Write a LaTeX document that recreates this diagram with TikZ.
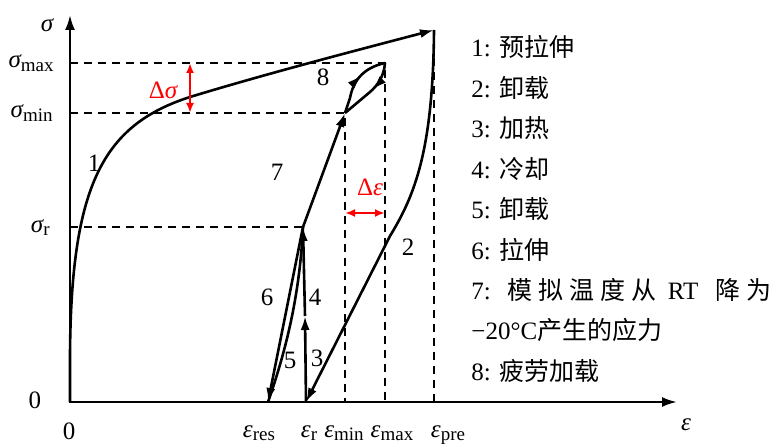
\documentclass[tikz,border=0pt]{standalone}
\usepackage{fontspec}
\setmainfont{Liberation Serif}
\newfontfamily\cjk{Noto Sans CJK SC}
\usetikzlibrary{arrows.meta,decorations.markings}
\newcommand\zh[1]{{\cjk #1}}
\newcommand\Sig{{\itshape σ}}
\newcommand\Eps{{\itshape ε}}
\newcommand\sbs[1]{\raisebox{-1.6pt}{\fontsize{9.5}{11}\selectfont #1}}
\begin{document}
\begin{tikzpicture}[x=0.5pt,y=-0.5pt,
  font=\fontsize{12.5}{15}\selectfont,
  axisline/.style={line width=1.2pt,{Latex[length=7.5pt,width=5pt]}-{Latex[length=7.5pt,width=5pt]}},
  curveline/.style={line width=1.3pt},
  tip/.style={-{Latex[length=7pt,width=4.5pt]}},
  guide/.style={line width=0.7pt,dash pattern=on 4pt off 3pt},
  redarrow/.style={red,line width=1pt,{Latex[length=5pt,width=4pt]}-{Latex[length=5pt,width=4pt]}},
  lab/.style={inner sep=0pt},
  legend/.style={inner sep=0pt,anchor=base west},
  midtip/.style={postaction=decorate,decoration={markings,mark=at position #1 with {\arrow{Latex[length=7pt,width=4.5pt]}}}}
]
\useasboundingbox (0,0) rectangle (771,444);

% key points
\coordinate (O) at (70,402);
\coordinate (Ytop) at (70,15);
\coordinate (Xend) at (677,402);
\coordinate (P) at (434,30);
\coordinate (Er) at (306,402);
\coordinate (Eres) at (268,402);
\coordinate (M) at (305,316);
\coordinate (R) at (303,227);
\coordinate (Lmin) at (345,113);
\coordinate (Lmax) at (385,63);
\coordinate (SmaxY) at (70,63);
\coordinate (SminY) at (70,113);
\coordinate (SrY) at (70,227);
\coordinate (EminX) at (345,402);
\coordinate (EmaxX) at (385,402);
\coordinate (EpreX) at (434,402);
\coordinate (DsT) at (190,63);
\coordinate (DsB) at (190,113);
\coordinate (DeL) at (345,213);
\coordinate (DeR) at (385,213);

% guide lines
\draw[guide] (SmaxY) -- (Lmax) -- (EmaxX);
\draw[guide] (SminY) -- (Lmin) -- (EminX);
\draw[guide] (SrY) -- (R);
\draw[guide] (P) -- (EpreX);

% axes
\draw[axisline] (Ytop) -- (O) -- (Xend);

% 1: pre-stretch
\draw[curveline,tip] (O) -- (70,355) .. controls (71,185) and (103,125) .. (190,97)
  .. controls (262,75) and (350,52) .. (P);
% 2: unloading
\draw[curveline,tip] (P) .. controls (433,150) and (415,195) .. (390,236) -- (Er);
% 3 and 4
\draw[curveline,tip] (Er) -- (M);
\draw[curveline,tip] (M) -- (R);
% 5 and 6
\draw[curveline] (R) .. controls (300,290) and (288,345) .. (Eres);
\draw[curveline,tip] (R) -- (Eres);
% 7
\draw[curveline,tip] (R) -- (Lmin);
% 8: fatigue loop
\draw[curveline,midtip=0.6] (Lmin) -- (350,98) .. controls (353,82) and (362,68) .. (Lmax);
\draw[curveline,midtip=0.45] (Lmax) .. controls (384,76) and (378,85) .. (370,92) -- (Lmin);

% red markers
\draw[redarrow] (DsT) -- (DsB);
\draw[redarrow] (DeL) -- (DeR);
\node[lab,red] (dsig) at (163,90) {Δ\Sig};
\node[lab,red] (deps) at (370,187) {Δ\Eps};

% axis labels
\node[lab,anchor=base] (sigax) at (47,32) {\Sig};
\node[lab,anchor=base] (epsax) at (686,430) {\Eps};
\node[lab,anchor=base east] (smax) at (54,68) {\Sig\sbs{max}};
\node[lab,anchor=base east] (smin) at (53,118) {\Sig\sbs{min}};
\node[lab,anchor=base east] (sr) at (50,232) {\Sig\sbs{r}};
\node[lab,anchor=base] (zeroy) at (35,408) {0};
\node[lab,anchor=base] (zerox) at (69,439) {0};
\node[lab,anchor=base] (eres) at (259,437) {\Eps\sbs{res}};
\node[lab,anchor=base] (er) at (309,437) {\Eps\sbs{r}};
\node[lab,anchor=base] (emin) at (344,437) {\Eps\sbs{min}};
\node[lab,anchor=base] (emax) at (392,437) {\Eps\sbs{max}};
\node[lab,anchor=base] (epre) at (448,437) {\Eps\sbs{pre}};

% step numbers
\node[lab] (n1) at (94,163) {1};
\node[lab] (n2) at (408,247) {2};
\node[lab] (n3) at (317,358) {3};
\node[lab] (n4) at (315,297) {4};
\node[lab] (n5) at (290,360) {5};
\node[lab] (n6) at (267,297) {6};
\node[lab] (n7) at (277,172) {7};
\node[lab] (n8) at (323,77) {8};

% legend
\node[legend] (g1) at (471,57) {1: \zh{预拉伸}};
\node[legend] (g2) at (471,97.4) {2: \zh{卸载}};
\node[legend] (g3) at (471,137.8) {3: \zh{加热}};
\node[legend] (g4) at (471,178.2) {4: \zh{冷却}};
\node[legend] (g5) at (471,218.6) {5: \zh{卸载}};
\node[legend] (g6) at (471,259) {6: \zh{拉伸}};
\node[legend] (g7) at (471,299.4) {7:\hspace{8.5pt}\zh{模}\hspace{3pt}\zh{拟}\hspace{3pt}\zh{温}\hspace{3pt}\zh{度}\hspace{3pt}\zh{从}\hspace{5.5pt}RT\hspace{8.5pt}\zh{降}\hspace{3pt}\zh{为}};
\node[legend] (g7b) at (471,339.8) {−20°C\zh{产生的应力}};
\node[legend] (g8) at (471,380.2) {8: \zh{疲劳加载}};
\end{tikzpicture}
\end{document}
